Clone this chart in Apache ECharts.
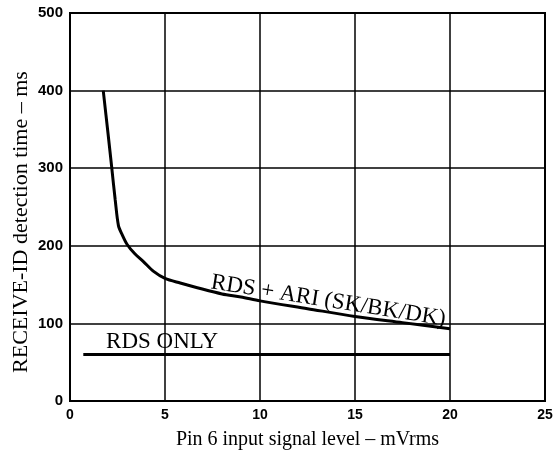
<!DOCTYPE html>
<html>
<head>
<meta charset="utf-8">
<script src="https://cdn.jsdelivr.net/npm/echarts@6/dist/echarts.min.js"></script>
<style>
  html, body { margin: 0; padding: 0; background: #fff; }
  #container { width: 554px; height: 451px; }
</style>
</head>
<body>
<div id="container"></div>
<script>
// values
const xTicks = [0, 5, 10, 15, 20, 25]
const yTicks = [0, 100, 200, 300, 400, 500]

// RDS + ARI (SK/BK/DK) curve: [signal level mVrms, detection time ms]
const ariCurve = [
  [1.75, 400], [2.0, 345], [2.2, 300], [2.38, 259], [2.55, 226],
  [2.75, 214], [3.0, 202], [3.4, 190], [3.85, 180], [4.4, 167],
  [5.0, 158], [5.8, 152], [6.7, 146], [8.0, 138], [9.0, 134],
  [10.0, 129], [12.5, 119], [15.0, 109], [17.5, 101], [20.0, 93]
]
// RDS ONLY line
const rdsOnly = [[0.7, 60], [20, 60]]

const serif = '"Liberation Serif", "DejaVu Serif", serif'
const sans = '"Liberation Sans", Arial, sans-serif'

let chartDom = document.getElementById('container')
let myChart = echarts.init(chartDom, null, { renderer: 'canvas' })
let option = {
  backgroundColor: '#fff',
  animation: false,
  grid: {
    left: 70,
    right: 9,
    top: 13,
    bottom: 50,
    outerBoundsMode: 'none',
    containLabel: false,
    show: true,
    borderColor: '#000',
    borderWidth: 2
  },
  xAxis: {
    type: 'value',
    min: xTicks[0],
    max: xTicks[xTicks.length - 1],
    interval: 5,
    name: 'Pin 6 input signal level – mVrms',
    nameLocation: 'middle',
    nameGap: 29,
    nameMoveOverlap: false,
    nameTextStyle: { color: '#000', fontFamily: serif, fontSize: 20 },
    axisLine: { show: true, lineStyle: { color: '#000', width: 2 } },
    axisTick: { show: false },
    axisLabel: {
      color: '#000',
      fontFamily: sans,
      fontWeight: 'bold',
      fontSize: 14,
      margin: 7
    },
    splitLine: { show: true, lineStyle: { color: '#000', width: 1.5 } }
  },
  yAxis: {
    type: 'value',
    min: yTicks[0],
    max: yTicks[yTicks.length - 1],
    interval: 100,
    name: 'RECEIVE-ID detection time – ms',
    nameLocation: 'middle',
    nameGap: 38,
    nameMoveOverlap: false,
    nameTextStyle: { color: '#000', fontFamily: serif, fontSize: 22, padding: [0, 30, 0, 0] },
    axisLine: { show: true, lineStyle: { color: '#000', width: 2 } },
    axisTick: { show: false },
    axisLabel: {
      color: '#000',
      fontFamily: sans,
      fontWeight: 'bold',
      fontSize: 15,
      margin: 7
    },
    splitLine: { show: true, lineStyle: { color: '#000', width: 1.5 } }
  },
  series: [
    {
      name: 'RDS + ARI (SK/BK/DK)',
      type: 'line',
      data: ariCurve,
      smooth: 0.3,
      showSymbol: false,
      lineStyle: { color: '#000', width: 3 },
      markPoint: {
        symbolSize: 0,
        data: [{ coord: [13.6, 129] }],
        label: {
          show: true,
          formatter: 'RDS + ARI (SK/BK/DK)',
          rotate: -9,
          color: '#000',
          fontFamily: serif,
          fontSize: 23,
          position: 'inside'
        }
      }
    },
    {
      name: 'RDS ONLY',
      type: 'line',
      data: rdsOnly,
      showSymbol: false,
      lineStyle: { color: '#000', width: 3 },
      markPoint: {
        symbolSize: 0,
        data: [{ coord: [4.85, 76] }],
        label: {
          show: true,
          formatter: 'RDS ONLY',
          color: '#000',
          fontFamily: serif,
          fontSize: 23,
          position: 'inside'
        }
      }
    }
  ]
}

option && myChart.setOption(option)
</script>
</body>
</html>
